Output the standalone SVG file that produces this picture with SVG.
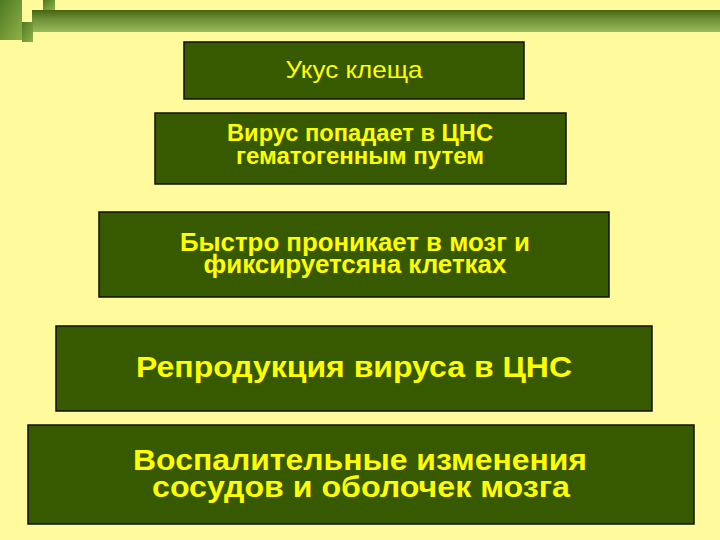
<svg xmlns="http://www.w3.org/2000/svg" width="720" height="540" viewBox="0 0 720 540">
<defs>
<linearGradient id="bar" x1="0" y1="0" x2="0" y2="1">
<stop offset="0" stop-color="#45650f"/>
<stop offset="0.4" stop-color="#6e8f35"/>
<stop offset="1" stop-color="#9ab95a"/>
</linearGradient>
<linearGradient id="sq" x1="0" y1="0" x2="1" y2="1">
<stop offset="0" stop-color="#4f7a22"/>
<stop offset="1" stop-color="#8fb048"/>
</linearGradient>
</defs>
<style>
.box{fill:#375a00;stroke:#111;stroke-width:1.5}
.t{fill:#ffff00;font-family:"Liberation Sans",Arial,sans-serif;text-anchor:middle}
.b{font-weight:bold}
</style>
<rect width="720" height="540" fill="#fffa9c"/>
<g id="decor">
<rect x="32" y="10" width="688" height="22" fill="url(#bar)"/>
<rect x="0" y="0" width="22" height="40" fill="url(#sq)"/>
<rect x="43" y="0" width="12" height="10" fill="url(#sq)"/>
<rect x="22" y="22" width="11" height="20" fill="url(#sq)"/>
</g>
<g id="connectors"></g>
<g id="n1">
<rect class="box" x="184" y="42" width="340" height="57"/>
<text class="t" x="354" y="78" font-size="24" textLength="137" lengthAdjust="spacingAndGlyphs">Укус клеща</text>
</g>
<g id="n2">
<rect class="box" x="155" y="113" width="411" height="71"/>
<text class="t b" x="360" y="141" font-size="24" textLength="266" lengthAdjust="spacingAndGlyphs">Вирус попадает в ЦНС</text>
<text class="t b" x="360" y="164" font-size="24" textLength="248" lengthAdjust="spacingAndGlyphs">гематогенным путем</text>
</g>
<g id="n3">
<rect class="box" x="99" y="212" width="510" height="85"/>
<text class="t b" x="355" y="251" font-size="25" textLength="350" lengthAdjust="spacingAndGlyphs">Быстро проникает в мозг и</text>
<text class="t b" x="355" y="273" font-size="25" textLength="303" lengthAdjust="spacingAndGlyphs">фиксируетсяна клетках</text>
</g>
<g id="n4">
<rect class="box" x="56" y="326" width="596" height="85"/>
<text class="t b" x="354" y="377" font-size="30" textLength="436" lengthAdjust="spacingAndGlyphs">Репродукция вируса в ЦНС</text>
</g>
<g id="n5">
<rect class="box" x="28" y="425" width="666" height="99"/>
<text class="t b" x="360" y="470" font-size="29" textLength="454" lengthAdjust="spacingAndGlyphs">Воспалительные изменения</text>
<text class="t b" x="361" y="497" font-size="29" textLength="418" lengthAdjust="spacingAndGlyphs">сосудов и оболочек мозга</text>
</g>
</svg>
